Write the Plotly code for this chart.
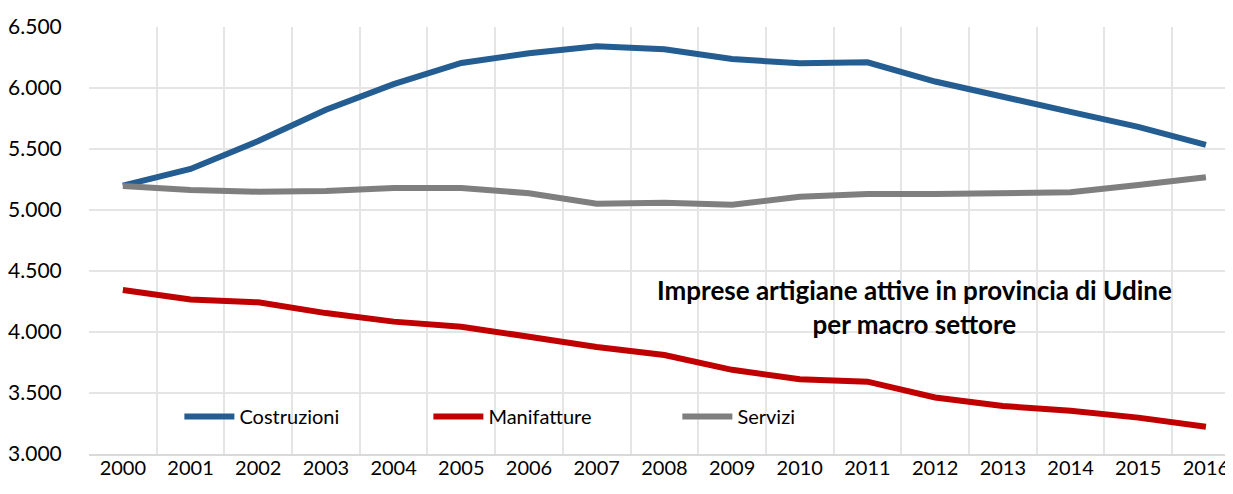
import plotly.graph_objects as go

years = [str(y) for y in range(2000, 2017)]

costruzioni = [5200, 5336, 5565, 5822, 6032, 6205, 6285, 6342, 6318, 6238, 6202,
               6211, 6053, 5925, 5804, 5682, 5533]
manifatture = [4344, 4266, 4243, 4155, 4085, 4043, 3961, 3877, 3811, 3690, 3612,
               3593, 3463, 3393, 3354, 3298, 3224]
servizi = [5197, 5164, 5150, 5155, 5181, 5181, 5137, 5052, 5060, 5043, 5109,
           5131, 5131, 5133, 5145, 5205, 5268]

SERIES = [
    ("Costruzioni", costruzioni, "#245d91"),
    ("Manifatture", manifatture, "#c00000"),
    ("Servizi", servizi, "#7f7f7f"),
]

GRID = "#e5e5e5"
FONT = "Lato"

fig = go.Figure()
for name, vals, color in SERIES:
    fig.add_trace(go.Scatter(
        x=years, y=vals, mode="lines", name=name,
        line=dict(color=color, width=6),
    ))

# Title sits inside the plot area, right of centre
fig.add_annotation(
    text="<b>Imprese artigiane attive in provincia di Udine<br>per macro settore</b>",
    xref="paper", yref="paper", x=0.722, y=0.344,
    xanchor="center", yanchor="middle", showarrow=False,
    font=dict(family=FONT, size=26, color="#000000"),
)

# the page body adds an 8px margin, so the figure is 8px smaller than the window
fig.update_layout(
    width=1225, height=486,
    margin=dict(l=79, r=0, t=19, b=40),
    paper_bgcolor="white", plot_bgcolor="white",
    separators=",.",
    font=dict(family=FONT, size=20, color="#000000"),
    showlegend=True,
    legend=dict(
        orientation="h", x=0.079, y=0.088, xanchor="left", yanchor="middle",
        entrywidth=184, entrywidthmode="pixels",
        font=dict(family=FONT, size=20, color="#000000"),
        bgcolor="rgba(0,0,0,0)", itemwidth=50, tracegroupgap=0,
    ),
    xaxis=dict(
        type="category", range=[-0.5, 16.4], tickson="boundaries",
        showgrid=True, gridcolor=GRID, gridwidth=1.5,
        showline=True, linecolor="#d9d9d9", linewidth=2,
        ticks="", zeroline=False, ticklabelstandoff=-5,
    ),
    yaxis=dict(
        range=[3000, 6500], dtick=500, tickformat=",d",
        showgrid=True, gridcolor=GRID, gridwidth=1.5,
        ticks="outside", ticklen=22, tickcolor="rgba(0,0,0,0)",
        tickfont=dict(size=21),
        zeroline=False, showline=False,
    ),
)

fig.write_html("out.html")
